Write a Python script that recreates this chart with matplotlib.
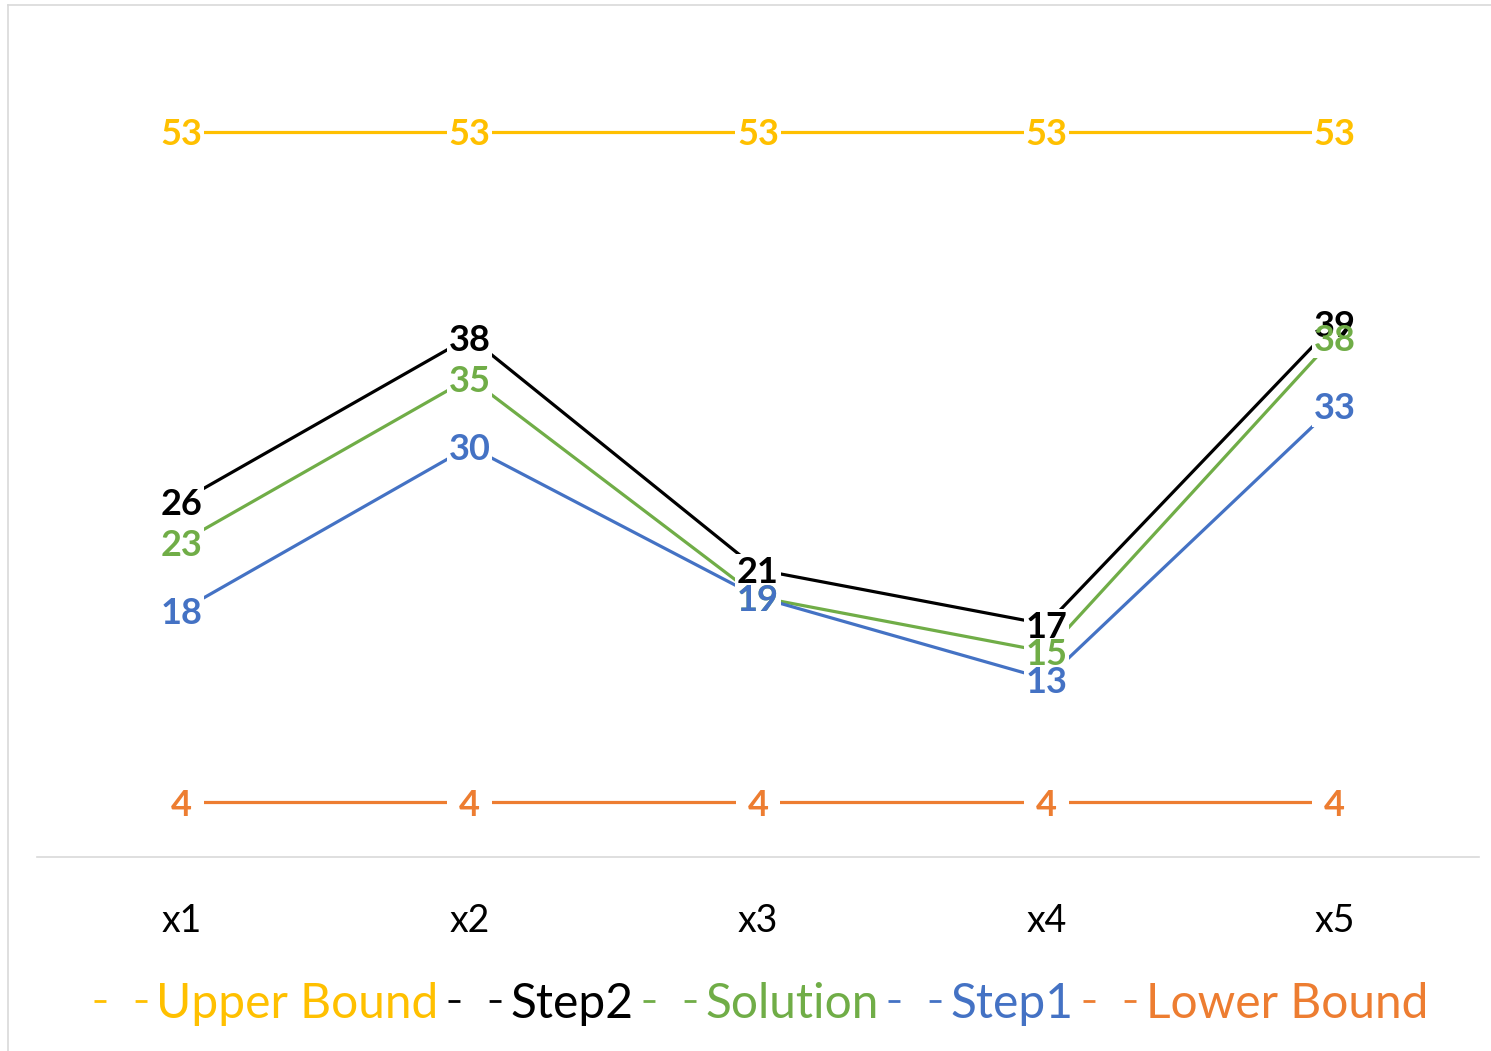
import matplotlib
matplotlib.use("Agg")
import matplotlib.pyplot as plt
from matplotlib.lines import Line2D

plt.rcParams['font.family'] = ['Lato', 'DejaVu Sans']

categories = ["x1", "x2", "x3", "x4", "x5"]
upper_bound = [53, 53, 53, 53, 53]
step2 = [26, 38, 21, 17, 39]
solution = [23, 35, 19, 15, 38]
step1 = [18, 30, 19, 13, 33]
lower_bound = [4, 4, 4, 4, 4]

series = [
    ("Upper Bound", upper_bound, "#FFC000"),
    ("Step2", step2, "#000000"),
    ("Solution", solution, "#70AD47"),
    ("Step1", step1, "#4472C4"),
    ("Lower Bound", lower_bound, "#ED7D31"),
]

W, H = 1491, 1051
fig = plt.figure(figsize=(W / 100, H / 100), dpi=100)
ax = fig.add_axes([37 / W, 1 - 857 / H, (1479 - 37) / W, (857 - 36) / H])

x = list(range(len(categories)))
for i, (name, vals, col) in enumerate(series):
    ax.plot(x, vals, color=col, lw=2.3, zorder=2, solid_capstyle='butt')
    for xi, v in zip(x, vals):
        # white box under the label cuts the line (like excel does)
        pad = 0.05 if v >= 10 else 0.33
        ax.text(xi, v, str(v), color='none', fontsize=26, fontweight='bold',
                ha='center', va='center_baseline', zorder=3,
                bbox=dict(boxstyle='square,pad=%g' % pad, fc='white', ec='none'))
        ax.text(xi, v, str(v), color=col, fontsize=26, fontweight='bold',
                ha='center', va='center_baseline', zorder=4 + i)

ax.set_xlim(-0.5, len(categories) - 0.5)
ax.set_ylim(0, 60)
ax.set_xticks(x)
ax.set_xticklabels(categories, fontsize=27)
ax.tick_params(axis='x', length=0, pad=33)
ax.set_yticks([])
for s in ['top', 'right', 'left']:
    ax.spines[s].set_visible(False)
ax.spines['bottom'].set_color('#d9d9d9')
ax.spines['bottom'].set_linewidth(1.2)

# legend keys look like "-  -" in the original
handles = [Line2D([0], [0], color=col, lw=2.0, dashes=(4.3, 10.5))
           for _, _, col in series]
fig.legend(handles, [s[0] for s in series], loc='center',
           bbox_to_anchor=(761 / W, 1 - 1004 / H), ncol=5, frameon=False,
           fontsize=34.5, labelcolor='linecolor', handlelength=1.1,
           handletextpad=0.2, columnspacing=0.2, borderaxespad=0)

# light grey chart frame
fig.add_artist(Line2D([8 / W, 1], [1 - 5 / H, 1 - 5 / H], color='#d9d9d9', lw=1.2))
fig.add_artist(Line2D([8 / W, 8 / W], [0, 1 - 5 / H], color='#d9d9d9', lw=1.2))

fig.savefig("out.png", dpi=100)
